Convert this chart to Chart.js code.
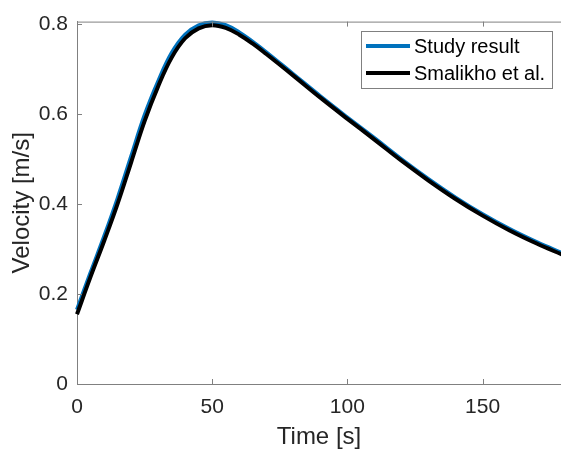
<!DOCTYPE html>
<html>
<head>
<meta charset="utf-8">
<script src="https://cdn.jsdelivr.net/npm/chart.js@4.4.1/dist/chart.umd.min.js"></script>
<style>
  html, body { margin: 0; padding: 0; background: #fff; }
  canvas { display: block; }
</style>
</head>
<body>
<canvas id="velocityChart" width="561" height="455"></canvas>
<script>
const timeValues = [0, 5, 10, 15, 20, 25, 30, 35, 40, 45, 50, 55, 60, 65, 70, 80, 90, 100, 110, 120, 130, 140, 150, 160, 170, 180];
const studyResult = [0.165, 0.247, 0.327, 0.412, 0.505, 0.597, 0.672, 0.735, 0.776, 0.797, 0.803, 0.797, 0.781, 0.760, 0.737, 0.688, 0.639, 0.592, 0.546, 0.499, 0.455, 0.414, 0.377, 0.344, 0.315, 0.289];
const smalikho = [0.155, 0.238, 0.317, 0.400, 0.492, 0.584, 0.661, 0.725, 0.768, 0.790, 0.797, 0.791, 0.776, 0.756, 0.733, 0.685, 0.636, 0.589, 0.543, 0.496, 0.452, 0.411, 0.374, 0.341, 0.312, 0.286];
const xTicks = [0, 50, 100, 150];
const yTicks = [0, 0.2, 0.4, 0.6, 0.8];

const textColor = '#262626';
const axisColor = '#808080';
const fontFamily = '"Liberation Sans", Arial, Helvetica, sans-serif';

function toPoints(xs, ys) {
    return xs.map((x, i) => ({ x: x, y: ys[i] }));
}

// MATLAB style box: top line, inward ticks, legend box inside the axes
const matlabBox = {
    id: 'matlabBox',
    afterDatasetsDraw(chart) {
        const ctx = chart.ctx;
        const area = chart.chartArea;
        const xs = chart.scales.x, ys = chart.scales.y;
        ctx.save();
        ctx.strokeStyle = axisColor;
        ctx.lineWidth = 1;
        ctx.beginPath();
        ctx.moveTo(area.left, area.top + 0.5);
        ctx.lineTo(area.right, area.top + 0.5);
        xTicks.forEach(v => {
            const px = Math.round(xs.getPixelForValue(v)) + 0.5;
            ctx.moveTo(px, area.bottom);
            ctx.lineTo(px, area.bottom - 5);
            ctx.moveTo(px, area.top);
            ctx.lineTo(px, area.top + 5);
        });
        yTicks.forEach(v => {
            const py = Math.round(ys.getPixelForValue(v)) + 0.5;
            ctx.moveTo(area.left, py);
            ctx.lineTo(area.left + 5, py);
        });
        ctx.stroke();

        // legend
        const bx = 361.5, by = 31.5, bw = 191, bh = 57;
        ctx.fillStyle = '#fff';
        ctx.fillRect(bx, by, bw, bh);
        ctx.strokeStyle = axisColor;
        ctx.strokeRect(bx, by, bw, bh);
        ctx.font = '20px ' + fontFamily;
        ctx.textBaseline = 'middle';
        const items = [chart.data.datasets[0], chart.data.datasets[1]];
        items.forEach((ds, i) => {
            const ly = 46 + i * 27;
            ctx.strokeStyle = ds.borderColor;
            ctx.lineWidth = 4;
            ctx.beginPath();
            ctx.moveTo(366, ly);
            ctx.lineTo(410, ly);
            ctx.stroke();
            ctx.fillStyle = '#000';
            ctx.fillText(ds.label, 414, ly + 1);
        });
        ctx.restore();
    }
};

new Chart(document.getElementById('velocityChart'), {
    type: 'line',
    data: {
        datasets: [
            {
                label: 'Study result',
                data: toPoints(timeValues, studyResult),
                borderColor: '#0072BD',
                borderWidth: 4,
                pointRadius: 0,
                tension: 0.4,
                clip: 4,
                order: 1
            },
            {
                label: 'Smalikho et al.',
                data: toPoints(timeValues, smalikho),
                borderColor: '#000000',
                borderWidth: 4,
                pointRadius: 0,
                tension: 0.4,
                clip: 4,
                order: 0
            }
        ]
    },
    options: {
        responsive: false,
        animation: false,
        devicePixelRatio: 1,
        layout: { padding: { top: 14, right: 0, left: 0, bottom: 0 } },
        plugins: {
            legend: { display: false },
            tooltip: { enabled: false }
        },
        scales: {
            x: {
                type: 'linear',
                min: 0,
                max: 179,
                afterFit(scale) { scale.height = 71; },
                afterBuildTicks(scale) { scale.ticks = xTicks.map(v => ({ value: v })); },
                grid: { display: false, drawTicks: false },
                border: { display: true, color: axisColor, width: 1 },
                ticks: {
                    color: textColor,
                    padding: 11,
                    maxRotation: 0,
                    font: { family: fontFamily, size: 21 }
                },
                title: {
                    display: true,
                    text: 'Time [s]',
                    color: textColor,
                    font: { family: fontFamily, size: 24 },
                    padding: { top: 4, bottom: 3 }
                }
            },
            y: {
                type: 'linear',
                min: 0,
                max: 0.805,
                afterFit(scale) { scale.width = 77; },
                afterBuildTicks(scale) { scale.ticks = yTicks.map(v => ({ value: v })); },
                grid: { display: false, drawTicks: false },
                border: { display: true, color: axisColor, width: 1 },
                ticks: {
                    color: textColor,
                    padding: 9,
                    font: { family: fontFamily, size: 21 },
                    callback: v => (v === 0 ? '0' : v.toFixed(1))
                },
                title: {
                    display: true,
                    text: 'Velocity [m/s]',
                    color: textColor,
                    font: { family: fontFamily, size: 24 },
                    padding: { top: 8, bottom: 4 }
                }
            }
        }
    },
    plugins: [matlabBox]
});
</script>
</body>
</html>
